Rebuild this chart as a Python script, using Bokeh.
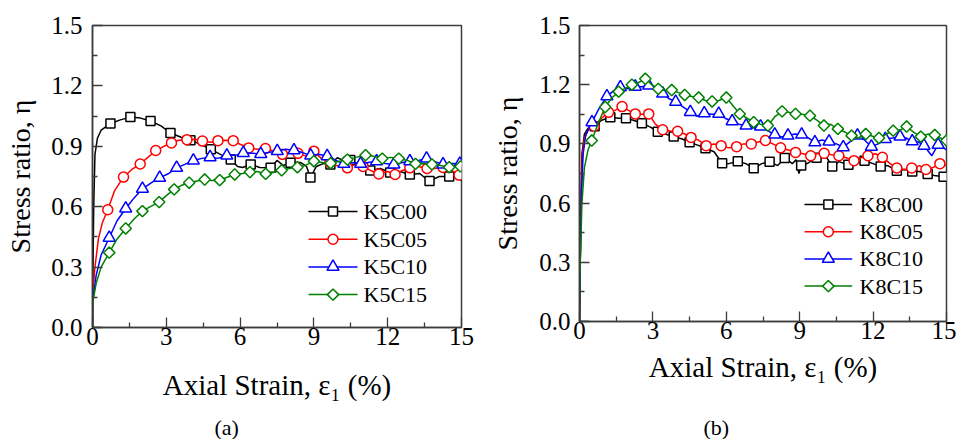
import math
from bokeh.plotting import figure
from bokeh.models import Range1d, FixedTicker, NumeralTickFormatter, Title
from bokeh.core.properties import value
from bokeh.layouts import row
from bokeh.embed import file_html
from bokeh.resources import INLINE

# ---------------- data: panel (a) ----------------
a_k00_x = [0, 0.005, 0.05, 0.1, 0.2, 0.35, 0.73, 1.1, 1.54, 1.95, 2.36, 2.8, 3.17, 3.6, 3.98, 4.4,
           4.81, 5.2, 5.62, 5.9, 6.1, 6.43, 6.8, 7.24, 7.5, 7.75, 8.05, 8.45, 8.7, 8.86, 9.1, 9.4,
           9.67, 9.95, 10.2, 10.48, 10.8, 11.0, 11.29, 11.7, 12.1, 12.5, 12.9, 13.3, 13.5, 13.7,
           14.1, 14.5, 14.8, 15.0]
a_k00_y = [0.0, 0.14, 0.6, 0.86, 0.94, 0.98, 1.013, 1.03, 1.045, 1.04, 1.026, 1.0, 0.966, 0.945,
           0.93, 0.91, 0.885, 0.86, 0.835, 0.80, 0.795, 0.81, 0.795, 0.793, 0.83, 0.805, 0.818,
           0.82, 0.80, 0.745, 0.80, 0.815, 0.81, 0.843, 0.83, 0.832, 0.81, 0.80, 0.78, 0.79, 0.77,
           0.775, 0.76, 0.765, 0.745, 0.728, 0.75, 0.75, 0.745, 0.73]
a_k00_mx = [0.73, 1.54, 2.36, 3.17, 3.98, 4.81, 5.62, 6.43, 7.24, 8.05, 8.86, 9.67, 10.48, 11.29,
            12.1, 12.9, 13.7, 14.5]
a_k00_my = [1.013, 1.045, 1.026, 0.966, 0.93, 0.885, 0.835, 0.81, 0.793, 0.818, 0.745, 0.81,
            0.832, 0.78, 0.77, 0.76, 0.728, 0.75]

a_k05_x = [0, 0.005, 0.1, 0.24, 0.4, 0.62, 0.9, 1.26, 1.6, 1.94, 2.25, 2.57, 2.9, 3.21, 3.5, 3.84,
           4.15, 4.47, 4.8, 5.1, 5.4, 5.72, 6.0, 6.35, 6.7, 7.03, 7.4, 7.72, 8.0, 8.35, 8.7, 9.0,
           9.3, 9.65, 10.0, 10.36, 10.7, 11.0, 11.3, 11.64, 12.0, 12.3, 12.6, 12.9, 13.25, 13.6,
           13.9, 14.25, 14.6, 14.9, 15.0]
a_k05_y = [0, 0.16, 0.3, 0.44, 0.52, 0.585, 0.68, 0.747, 0.785, 0.812, 0.845, 0.879, 0.9, 0.917,
           0.93, 0.933, 0.935, 0.926, 0.92, 0.928, 0.93, 0.928, 0.91, 0.892, 0.885, 0.889, 0.875,
           0.86, 0.87, 0.865, 0.85, 0.876, 0.84, 0.82, 0.80, 0.793, 0.81, 0.80, 0.78, 0.763, 0.775,
           0.76, 0.78, 0.793, 0.8, 0.79, 0.79, 0.795, 0.78, 0.757, 0.757]
a_k05_mx = [0.62, 1.26, 1.94, 2.57, 3.21, 3.84, 4.47, 5.1, 5.72, 6.35, 7.03, 7.72, 8.35, 9.0,
            9.65, 10.36, 11.0, 11.64, 12.3, 12.9, 13.6, 14.25, 14.9]
a_k05_my = [0.585, 0.747, 0.812, 0.879, 0.917, 0.933, 0.926, 0.928, 0.928, 0.892, 0.889, 0.86,
            0.865, 0.876, 0.82, 0.793, 0.80, 0.763, 0.76, 0.793, 0.79, 0.795, 0.757]

a_k10_x = [0, 0.005, 0.15, 0.35, 0.68, 1.0, 1.35, 1.7, 2.03, 2.4, 2.73, 3.1, 3.42, 3.75, 4.1,
           4.45, 4.78, 5.1, 5.46, 5.8, 6.13, 6.5, 6.84, 7.2, 7.51, 7.85, 8.19, 8.5, 8.87, 9.2,
           9.54, 9.9, 10.22, 10.55, 10.9, 11.2, 11.55, 11.9, 12.25, 12.6, 12.9, 13.25, 13.58,
           13.9, 14.25, 14.6, 14.93, 15.0]
a_k10_y = [0, 0.13, 0.26, 0.36, 0.446, 0.53, 0.591, 0.645, 0.689, 0.72, 0.743, 0.765, 0.793,
           0.81, 0.829, 0.84, 0.846, 0.84, 0.854, 0.855, 0.867, 0.865, 0.862, 0.87, 0.876, 0.885,
           0.88, 0.87, 0.854, 0.86, 0.851, 0.83, 0.813, 0.82, 0.813, 0.82, 0.826, 0.815, 0.81,
           0.82, 0.826, 0.83, 0.839, 0.825, 0.81, 0.815, 0.813, 0.81]
a_k10_mx = [0.68, 1.35, 2.03, 2.73, 3.42, 4.1, 4.78, 5.46, 6.13, 6.84, 7.51, 8.19, 8.87, 9.54,
            10.22, 10.9, 11.55, 12.25, 12.9, 13.58, 14.25, 14.93]
a_k10_my = [0.446, 0.591, 0.689, 0.743, 0.793, 0.829, 0.846, 0.854, 0.867, 0.862, 0.876, 0.88,
            0.854, 0.851, 0.813, 0.813, 0.826, 0.81, 0.826, 0.839, 0.81, 0.813]

a_k15_x = [0.3, 0.05, 0.0, 0.005, 0.15, 0.35, 0.68, 1.0, 1.35, 1.7, 2.03, 2.35, 2.71, 3.0, 3.32,
           3.6, 3.93, 4.25, 4.56, 4.85, 5.17, 5.45, 5.78, 6.1, 6.4, 6.7, 7.04, 7.35, 7.69, 8.0,
           8.33, 8.65, 9.0, 9.35, 9.68, 10.0, 10.36, 10.7, 11.1, 11.45, 11.78, 12.1, 12.45, 12.8,
           13.13, 13.45, 13.8, 14.15, 14.5, 14.96, 15.0]
a_k15_y = [0.0, 0.0, 0.02, 0.12, 0.22, 0.3, 0.372, 0.44, 0.492, 0.54, 0.578, 0.6, 0.623, 0.655,
           0.686, 0.705, 0.719, 0.728, 0.735, 0.73, 0.732, 0.745, 0.76, 0.765, 0.772, 0.775,
           0.763, 0.77, 0.781, 0.79, 0.796, 0.805, 0.826, 0.82, 0.816, 0.825, 0.834, 0.845, 0.856,
           0.85, 0.839, 0.845, 0.839, 0.83, 0.813, 0.815, 0.81, 0.805, 0.796, 0.80, 0.80]
a_k15_mx = [0.68, 1.35, 2.03, 2.71, 3.32, 3.93, 4.56, 5.17, 5.78, 6.4, 7.04, 7.69, 8.33, 9.0,
            9.68, 10.36, 11.1, 11.78, 12.45, 13.13, 13.8, 14.5, 14.96]
a_k15_my = [0.372, 0.492, 0.578, 0.623, 0.686, 0.719, 0.735, 0.732, 0.76, 0.772, 0.763, 0.781,
            0.796, 0.826, 0.816, 0.834, 0.856, 0.839, 0.839, 0.813, 0.81, 0.796, 0.80]

# ---------------- data: panel (b) ----------------
b_k00_x = [0, 0.02, 0.06, 0.1, 0.2, 0.35, 0.62, 0.9, 1.26, 1.6, 1.9, 2.2, 2.55, 2.9, 3.2, 3.5,
           3.85, 4.2, 4.5, 4.8, 5.15, 5.5, 5.83, 6.1, 6.47, 6.8, 7.12, 7.45, 7.77, 8.1, 8.39,
           8.7, 8.85, 8.97, 9.06, 9.3, 9.69, 10.0, 10.33, 10.6, 10.99, 11.3, 11.65, 12.0, 12.31,
           12.6, 12.97, 13.3, 13.6, 13.9, 14.23, 14.5, 14.88, 15.0]
b_k00_y = [0, 0.2, 0.6, 0.85, 0.95, 0.98, 0.99, 1.02, 1.035, 1.03, 1.03, 1.02, 1.005, 0.985,
           0.962, 0.95, 0.937, 0.925, 0.908, 0.895, 0.878, 0.86, 0.802, 0.80, 0.812, 0.80, 0.776,
           0.80, 0.81, 0.79, 0.829, 0.80, 0.82, 0.75, 0.79, 0.80, 0.83, 0.85, 0.786, 0.81, 0.794,
           0.80, 0.815, 0.80, 0.785, 0.79, 0.764, 0.77, 0.76, 0.76, 0.747, 0.74, 0.734, 0.74]
b_k00_mx = [0.62, 1.26, 1.9, 2.55, 3.2, 3.85, 4.5, 5.15, 5.83, 6.47, 7.12, 7.77, 8.39, 9.06,
            9.69, 10.33, 10.99, 11.65, 12.31, 12.97, 13.6, 14.23, 14.88]
b_k00_my = [0.99, 1.035, 1.03, 1.005, 0.962, 0.937, 0.908, 0.878, 0.802, 0.812, 0.776, 0.81,
            0.829, 0.79, 0.83, 0.786, 0.794, 0.815, 0.785, 0.764, 0.76, 0.747, 0.734]

b_k05_x = [0, 0.03, 0.07, 0.12, 0.2, 0.35, 0.6, 0.9, 1.19, 1.45, 1.74, 2.0, 2.28, 2.55, 2.83,
           3.1, 3.4, 3.7, 4.01, 4.3, 4.56, 4.85, 5.18, 5.5, 5.79, 6.1, 6.42, 6.7, 7.02, 7.3, 7.6,
           7.9, 8.22, 8.5, 8.83, 9.15, 9.45, 9.7, 10.0, 10.3, 10.6, 10.9, 11.22, 11.5, 11.79,
           12.1, 12.38, 12.7, 12.97, 13.3, 13.58, 13.9, 14.16, 14.45, 14.73, 15.0]
b_k05_y = [0, 0.3, 0.65, 0.85, 0.93, 0.97, 0.99, 1.03, 1.06, 1.07, 1.089, 1.07, 1.052, 1.05,
           1.052, 1.0, 0.972, 0.965, 0.964, 0.95, 0.933, 0.92, 0.891, 0.9, 0.891, 0.88, 0.886,
           0.9, 0.9, 0.91, 0.917, 0.9, 0.88, 0.87, 0.857, 0.85, 0.84, 0.85, 0.852, 0.845, 0.84,
           0.83, 0.815, 0.83, 0.84, 0.85, 0.832, 0.8, 0.778, 0.77, 0.778, 0.79, 0.77, 0.78, 0.8,
           0.79]
b_k05_mx = [0.6, 1.19, 1.74, 2.28, 2.83, 3.4, 4.01, 4.56, 5.18, 5.79, 6.42, 7.02, 7.6, 8.22,
            8.83, 9.45, 10.0, 10.6, 11.22, 11.79, 12.38, 12.97, 13.58, 14.16, 14.73]
b_k05_my = [0.99, 1.06, 1.089, 1.052, 1.052, 0.972, 0.964, 0.933, 0.891, 0.891, 0.886, 0.9,
            0.917, 0.88, 0.857, 0.84, 0.852, 0.84, 0.815, 0.84, 0.832, 0.778, 0.778, 0.77, 0.8]

b_k10_x = [0, 0.03, 0.08, 0.15, 0.25, 0.4, 0.51, 0.8, 1.12, 1.4, 1.67, 2.0, 2.28, 2.55, 2.83,
           3.1, 3.4, 3.65, 3.93, 4.2, 4.53, 4.8, 5.1, 5.4, 5.69, 5.95, 6.24, 6.5, 6.81, 7.1, 7.4,
           7.65, 7.98, 8.25, 8.52, 8.8, 9.08, 9.35, 9.62, 9.9, 10.2, 10.5, 10.78, 11.05, 11.36,
           11.65, 11.93, 12.2, 12.5, 12.8, 13.1, 13.35, 13.6, 13.85, 14.08, 14.4, 14.66, 15.0]
b_k10_y = [0, 0.3, 0.65, 0.85, 0.94, 0.985, 1.01, 1.08, 1.141, 1.17, 1.187, 1.18, 1.19, 1.19,
           1.196, 1.17, 1.155, 1.13, 1.113, 1.09, 1.062, 1.04, 1.055, 1.05, 1.052, 1.03, 1.015,
           1.0, 0.993, 0.98, 0.988, 0.97, 0.947, 0.935, 0.942, 0.95, 0.947, 0.93, 0.908, 0.92,
           0.912, 0.9, 0.883, 0.91, 0.942, 0.92, 0.886, 0.9, 0.925, 0.93, 0.937, 0.93, 0.913,
           0.91, 0.891, 0.84, 0.896, 0.87]
b_k10_mx = [0.51, 1.12, 1.67, 2.28, 2.83, 3.4, 3.93, 4.53, 5.1, 5.69, 6.24, 6.81, 7.4, 7.98,
            8.52, 9.08, 9.62, 10.2, 10.78, 11.36, 11.93, 12.5, 13.1, 13.6, 14.08, 14.66]
b_k10_my = [1.01, 1.141, 1.187, 1.19, 1.196, 1.155, 1.113, 1.062, 1.055, 1.052, 1.015, 0.993,
            0.988, 0.947, 0.942, 0.947, 0.908, 0.912, 0.883, 0.942, 0.886, 0.925, 0.937, 0.913,
            0.891, 0.896]

b_k15_x = [0.35, 0.05, 0.0, 0.03, 0.1, 0.2, 0.35, 0.5, 0.75, 1.05, 1.3, 1.6, 1.85, 2.14, 2.4,
           2.69, 2.95, 3.22, 3.5, 3.77, 4.05, 4.3, 4.6, 4.87, 5.15, 5.42, 5.7, 6.0, 6.3, 6.55,
           6.85, 7.12, 7.4, 7.7, 8.0, 8.28, 8.55, 8.83, 9.1, 9.42, 9.7, 9.99, 10.25, 10.56,
           10.85, 11.12, 11.4, 11.7, 11.95, 12.24, 12.55, 12.82, 13.1, 13.37, 13.65, 13.95,
           14.25, 14.52, 14.75, 15.0]
b_k15_y = [0.0, 0.0, 0.02, 0.3, 0.6, 0.78, 0.87, 0.917, 1.0, 1.087, 1.13, 1.165, 1.18, 1.2,
           1.21, 1.23, 1.2, 1.179, 1.17, 1.173, 1.16, 1.148, 1.14, 1.135, 1.12, 1.115, 1.12,
           1.135, 1.09, 1.052, 1.03, 1.01, 1.0, 0.993, 1.04, 1.065, 1.06, 1.052, 1.05, 1.043,
           1.02, 0.993, 1.0, 0.976, 0.96, 0.942, 0.93, 0.95, 0.94, 0.93, 0.95, 0.967, 0.97,
           0.988, 0.96, 0.937, 0.95, 0.945, 0.93, 0.917]
b_k15_mx = [0.5, 1.05, 1.6, 2.14, 2.69, 3.22, 3.77, 4.3, 4.87, 5.42, 6.0, 6.55, 7.12, 7.7,
            8.28, 8.83, 9.42, 9.99, 10.56, 11.12, 11.7, 12.24, 12.82, 13.37, 13.95, 14.52, 15.0]
b_k15_my = [0.917, 1.087, 1.165, 1.2, 1.23, 1.179, 1.173, 1.148, 1.135, 1.115, 1.135, 1.052,
            1.01, 0.993, 1.065, 1.052, 1.043, 0.993, 0.976, 0.942, 0.95, 0.93, 0.967, 0.988,
            0.937, 0.945, 0.917]

a_names = ["K5C00", "K5C05", "K5C10", "K5C15"]
b_names = ["K8C00", "K8C05", "K8C10", "K8C15"]
x_ticks = [0, 3, 6, 9, 12, 15]
x_minor = [1.5, 4.5, 7.5, 10.5, 13.5]
y_ticks = [0.0, 0.3, 0.6, 0.9, 1.2, 1.5]
y_minor = [0.15, 0.45, 0.75, 1.05, 1.35]
x_title = "Axial Strain, \u03b5\u2081 (%)"
y_title = "Stress ratio, \u03b7"

# ---------------- styling ----------------
FONT = "Liberation Serif"
FRAME = "#3c3c3c"
COLORS = ["#000000", "#ff0000", "#0000ff", "#008000"]
MARKERS = [("square", 9, 0.0), ("circle", 10, 0.0), ("triangle", 12, 0.0),
           ("square", 8, math.pi / 4)]


def make_panel(series, names, g, tag):
    p = figure(frame_width=g["fw"], frame_height=g["fh"],
               min_border_left=g["left"], min_border_right=g["right"],
               min_border_top=g["top"], min_border_bottom=g["bottom"],
               x_range=Range1d(0, 15), y_range=Range1d(0, 1.5),
               output_backend="svg", toolbar_location=None)
    p.background_fill_color = "white"
    p.border_fill_color = "white"
    p.xgrid.visible = False
    p.ygrid.visible = False
    p.outline_line_color = FRAME
    p.outline_line_width = 1.5

    for ax in (p.xaxis[0], p.yaxis[0]):
        ax.axis_line_color = FRAME
        ax.axis_line_width = 1.5
        ax.major_tick_line_color = FRAME
        ax.minor_tick_line_color = FRAME
        ax.major_tick_line_width = 1.3
        ax.minor_tick_line_width = 1.3
        ax.major_tick_in = 10
        ax.major_tick_out = 0
        ax.minor_tick_in = 5
        ax.minor_tick_out = 0
        ax.major_label_text_font = FONT
        ax.major_label_text_font_size = "25px"
        ax.major_label_text_color = "black"
        ax.axis_label_text_font = FONT
        ax.axis_label_text_font_style = "normal"
        ax.axis_label_text_color = "black"
    p.xaxis[0].ticker = FixedTicker(ticks=x_ticks, minor_ticks=x_minor)
    p.yaxis[0].ticker = FixedTicker(ticks=y_ticks, minor_ticks=y_minor)
    p.yaxis[0].formatter = NumeralTickFormatter(format="0.0")
    p.xaxis[0].major_label_standoff = g["xstand"]
    p.yaxis[0].major_label_standoff = g["ystand"]
    p.xaxis[0].axis_label = x_title
    p.xaxis[0].axis_label_text_font_size = "29px"
    p.xaxis[0].axis_label_standoff = g["xlab_stand"]
    p.yaxis[0].axis_label = y_title
    p.yaxis[0].axis_label_text_font_size = "28px"
    p.yaxis[0].axis_label_standoff = g["ylab_stand"]

    p.add_layout(Title(text=tag, align="left", offset=g["tag_off"], standoff=g["tag_stand"],
                       text_font=FONT, text_font_size="22px", text_font_style="normal",
                       text_color="black"), "below")

    def dx(sx):
        return (sx - g["left"]) / g["fw"] * 15.0

    def dy(sy):
        return (g["top"] + g["fh"] - sy) / g["fh"] * 1.5

    for (lx, ly, mx, my), col, (mk, sz, ang) in zip(series, COLORS, MARKERS):
        p.line(lx, ly, line_color=col, line_width=1.5)
        p.scatter(mx, my, marker=mk, size=sz, angle=ang, line_color=col,
                  line_width=1.5, fill_color="white")

    # legend (drawn inside the frame, positions in screen pixels of the panel)
    gx0, gx1, tx = g["leg_x"]
    ry0, rstep = g["leg_y"]
    for i, (name, col, (mk, sz, ang)) in enumerate(zip(names, COLORS, MARKERS)):
        yy = dy(ry0 + i * rstep)
        p.line([dx(gx0), dx(gx1)], [yy, yy], line_color=col, line_width=1.5)
        p.scatter([dx((gx0 + gx1) / 2)], [yy], marker=mk, size=sz, angle=ang,
                  line_color=col, line_width=1.5, fill_color="white")
        p.text([dx(tx)], [yy], text=[name], text_font=value(FONT),
               text_font_size=value("22px"), text_baseline="middle",
               text_align="left", text_color="black")
    return p


ga = dict(left=92, right=17, top=21, bottom=116, fw=369, fh=302, xstand=0, ystand=10,
          xlab_stand=21, ylab_stand=12, tag_off=122, tag_stand=19,
          leg_x=(308, 357, 363), leg_y=(207, 27.7))
gb = dict(left=101, right=10, top=25, bottom=118, fw=367, fh=296, xstand=0, ystand=9,
          xlab_stand=9, ylab_stand=13, tag_off=124, tag_stand=54,
          leg_x=(326, 373.7, 381), leg_y=(204, 27.2))

pa = make_panel([(a_k00_x, a_k00_y, a_k00_mx, a_k00_my),
                 (a_k05_x, a_k05_y, a_k05_mx, a_k05_my),
                 (a_k10_x, a_k10_y, a_k10_mx, a_k10_my),
                 (a_k15_x, a_k15_y, a_k15_mx, a_k15_my)], a_names, ga, "(a)")
pb = make_panel([(b_k00_x, b_k00_y, b_k00_mx, b_k00_my),
                 (b_k05_x, b_k05_y, b_k05_mx, b_k05_my),
                 (b_k10_x, b_k10_y, b_k10_mx, b_k10_my),
                 (b_k15_x, b_k15_y, b_k15_mx, b_k15_my)], b_names, gb, "(b)")

layout = row(pa, pb, spacing=0)
open("out.html", "w").write(file_html(layout, INLINE))
